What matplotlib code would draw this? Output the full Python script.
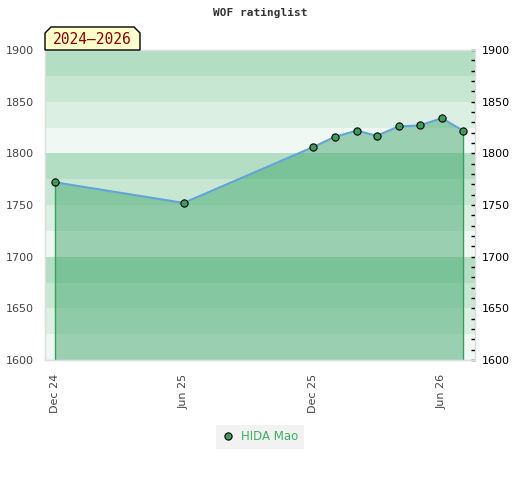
import matplotlib
matplotlib.use("Agg")
import matplotlib.pyplot as plt
import matplotlib.dates as mdates
from matplotlib.patches import Polygon
from matplotlib.ticker import MultipleLocator
import numpy as np
from datetime import datetime

# ---- data ----
dates = ["2024-12-01", "2025-06-01", "2025-12-01", "2026-01-01", "2026-02-01",
         "2026-03-01", "2026-04-01", "2026-05-01", "2026-06-01", "2026-07-01"]
ratings = [1772, 1752, 1806, 1816, 1822, 1817, 1826, 1827, 1834, 1822]
player = "HIDA Mao"
title = "WOF ratinglist"
period_label = "2024\u20132026"
xtick_dates = ["2024-12-01", "2025-06-01", "2025-12-01", "2026-06-01"]
xtick_labels = ["Dec 24", "Jun 25", "Dec 25", "Jun 26"]
y_min, y_max = 1600, 1900

# ---- styles ----
band_colors = ["#eff8f2", "#dbefe2", "#c8e7d3", "#b3dec3"]  # from bottom to top within each 100
fill_color = "#3ba469"
line_color = "#62a4d8"
marker_face = "#3a9e5c"
vline_color = "#3a9e5c"

x = [datetime.strptime(d, "%Y-%m-%d") for d in dates]
xn = mdates.date2num(x)

fig = plt.figure(figsize=(5.2, 4.8), dpi=100)
ax = fig.add_axes([45/520, 1-360/480, 430/520, 310/480])

# background bands
lo = y_min
i = 0
while lo < y_max:
    ax.axhspan(lo, lo+25, color=band_colors[i % 4], lw=0, zorder=0)
    lo += 25
    i += 1

ax.fill_between(xn, ratings, y_min, color=fill_color, alpha=0.47, lw=0, zorder=1)
ax.vlines([xn[0], xn[-1]], y_min, [ratings[0], ratings[-1]], color=vline_color, lw=1.0, zorder=2)
ax.plot(xn, ratings, color=line_color, lw=1.5, zorder=3)
ax.plot(xn, ratings, ls="none", marker="o", ms=5.2, mfc=marker_face, mec="black", mew=0.8,
        zorder=4, label=player)

ax.set_ylim(y_min, y_max)
pad_l = 14
pad_r = 17
ax.set_xlim(xn[0]-pad_l, xn[-1]+pad_r)

xt = mdates.date2num([datetime.strptime(d, "%Y-%m-%d") for d in xtick_dates])
ax.set_xticks(xt)
ax.set_xticklabels(xtick_labels, rotation=90, fontsize=8, color="#444444")
ax.set_yticks(np.arange(y_min, y_max+1, 50))
ax.tick_params(axis="y", length=0, labelsize=8, labelcolor="#444444", pad=8)
ax.tick_params(axis="x", length=0, pad=10)
for s in ax.spines.values():
    s.set_color("#dddddd")
    s.set_linewidth(1)

ax2 = ax.twinx()
ax2.set_ylim(y_min, y_max)
ax2.set_yticks(np.arange(y_min, y_max+1, 50))
ax2.yaxis.set_minor_locator(MultipleLocator(10))
ax2.tick_params(axis="y", which="both", direction="in", length=3, width=1, color="black",
                labelsize=8, labelcolor="black", pad=5)
for s in ax2.spines.values():
    s.set_color("#dddddd")

fig.text(0.5, 1-13/480, title, ha="center", va="center", fontsize=8, fontweight="bold",
         family="DejaVu Sans Mono", color="#333333")

# period label box with cut corners
W, H = 520, 480
pts = [(45, 50), (45, 33), (51, 27), (134, 27), (140, 33), (140, 50)]
poly = Polygon([(px/W, 1-py/H) for px, py in pts], closed=True, transform=fig.transFigure,
               facecolor="#ffffcc", edgecolor="black", lw=1, zorder=5)
fig.patches.append(poly)
fig.text(92.5/W, 1-39.5/H, period_label, ha="center", va="center", fontsize=10.5,
         family="DejaVu Sans Mono", color="#8b0000", zorder=6)

leg = fig.legend(loc="center", bbox_to_anchor=(260/W, 1-437/H), frameon=True, fontsize=8.5,
                 handletextpad=0.5, borderpad=0.45, handlelength=1.2, borderaxespad=0)
leg.get_frame().set_facecolor("#efefef")
leg.get_frame().set_edgecolor("none")
leg.get_frame().set_boxstyle("square", pad=0)
for t in leg.get_texts():
    t.set_color("#3daf63")

fig.savefig("out.png", dpi=100)
